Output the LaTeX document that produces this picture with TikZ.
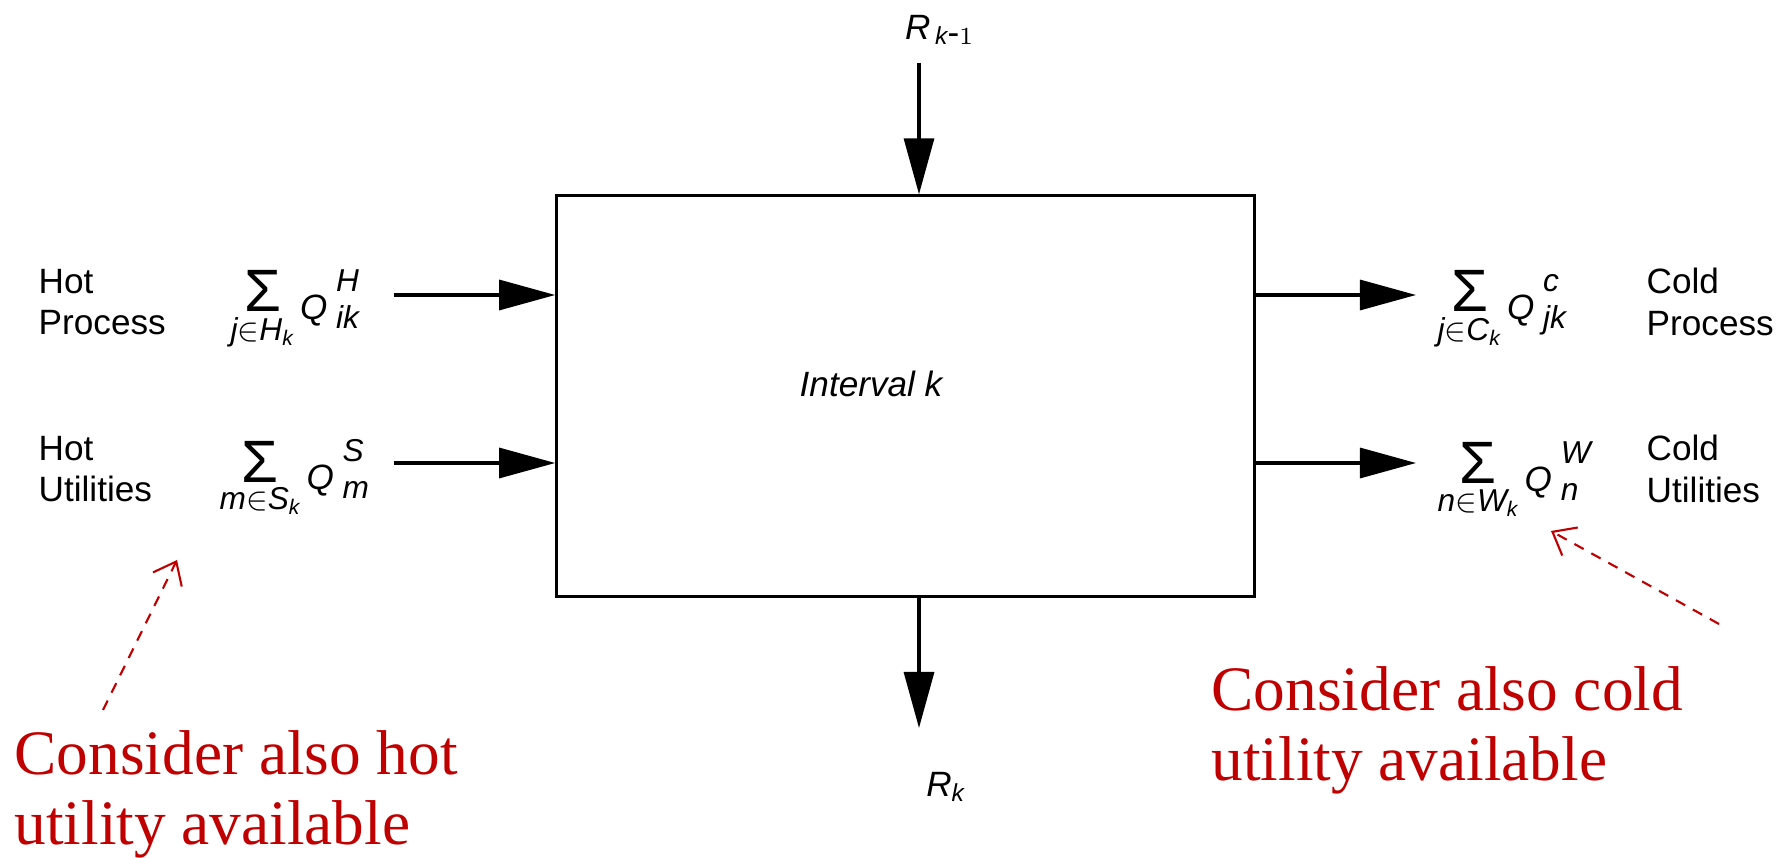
\documentclass[tikz,border=0pt]{standalone}
\usepackage{fontspec}
\setmainfont{Liberation Sans}
\newfontfamily\notefont{Liberation Serif}
\usetikzlibrary{arrows.meta}
\definecolor{notered}{RGB}{192,0,0}
\newcommand{\mi}[1]{\mathit{#1}}
% big sum over #1 in #2, of Q with upper #3 and lower #4
\newcommand{\sumq}[4]{$\mathop{\mbox{\fontsize{17}{17}\selectfont Σ}}\limits_{\mbox{\itshape #1$\in$#2$_{\mi{k}}$}}
  \mbox{\itshape\raisebox{-2pt}{{\fontsize{10}{10}\selectfont Q}\hspace{2.5pt}\rlap{\raisebox{7.7pt}{#3}}\raisebox{-2.8pt}{#4}}}$}

\begin{document}
\begin{tikzpicture}[x=0.01cm, y=-0.01cm, font=\fontsize{10}{11.7}\selectfont,
  flow/.style={line width=0.9pt, -{Triangle[length=5.6mm, width=3mm]}},
  lab/.style={align=left, anchor=west, inner sep=0pt},
  sumlab/.style={anchor=base west, inner sep=0pt, font=\fontsize{9}{10}\selectfont},
  note/.style={text=notered, font=\notefont\fontsize{18}{20}\selectfont, align=left, inner sep=0pt, anchor=north west},
  hint/.style={draw=notered, line width=0.6pt, dash pattern=on 3pt off 2.5pt, -{Straight Barb[length=2mm, width=3.2mm]}}]
\useasboundingbox (0,0) rectangle (1791,858);

% the interval
\node[draw, line width=0.9pt, minimum width=6.97cm, minimum height=4cm, inner sep=0pt] (box) at (905.5,396) {};
\node[font=\fontsize{10}{12}\selectfont\itshape] (ivl) at (871,384) {Interval k};

% residuals in and out
\node (rin) at (940,30) {$\mi{R}_{\,\mi{k}\mbox{-}1}$};
\node (rout) at (946,787) {$\mi{R}_{\mi{k}}$};
\coordinate (tin) at (919,63);
\coordinate (tout) at (919,728);
\draw[flow] (tin) -- (tin |- box.north);
\draw[flow] (tout |- box.south) -- (tout);

% hot side
\node[lab] (hp) at (38,302) {Hot\\Process};
\node[lab] (hu) at (38,469) {Hot\\Utilities};
\node[sumlab] (qh) at (230,312) {\sumq{j}{H}{H}{ik}};
\node[sumlab] (qs) at (219,482) {\sumq{m}{S}{S}{m}};
\foreach \n/\y in {hin/295, sin/463} {
  \coordinate (\n) at (394,\y);
  \draw[flow] (\n) -- (\n -| box.west);
}

% cold side
\node[lab] (cp) at (1646,302) {Cold\\Process};
\node[lab] (cu) at (1646,469) {Cold\\Utilities};
\node[sumlab] (qc) at (1437,312) {\sumq{j}{C}{c}{jk}};
\node[sumlab] (qw) at (1437,484) {\sumq{n}{W}{W}{n}};
\foreach \n/\y in {cout/295, wout/463} {
  \coordinate (\n) at (1416,\y);
  \draw[flow] (\n -| box.east) -- (\n);
}

% remarks
\node[note] (nhot) at (14,730) {Consider also hot\\utility available};
\node[note] (ncold) at (1211,666) {Consider also cold\\utility available};
\coordinate (thot) at (103,710);
\coordinate (tcold) at (1719,624);
\draw[hint] (thot) -- (177,560);
\draw[hint] (tcold) -- (1551,531);
\end{tikzpicture}
\end{document}
